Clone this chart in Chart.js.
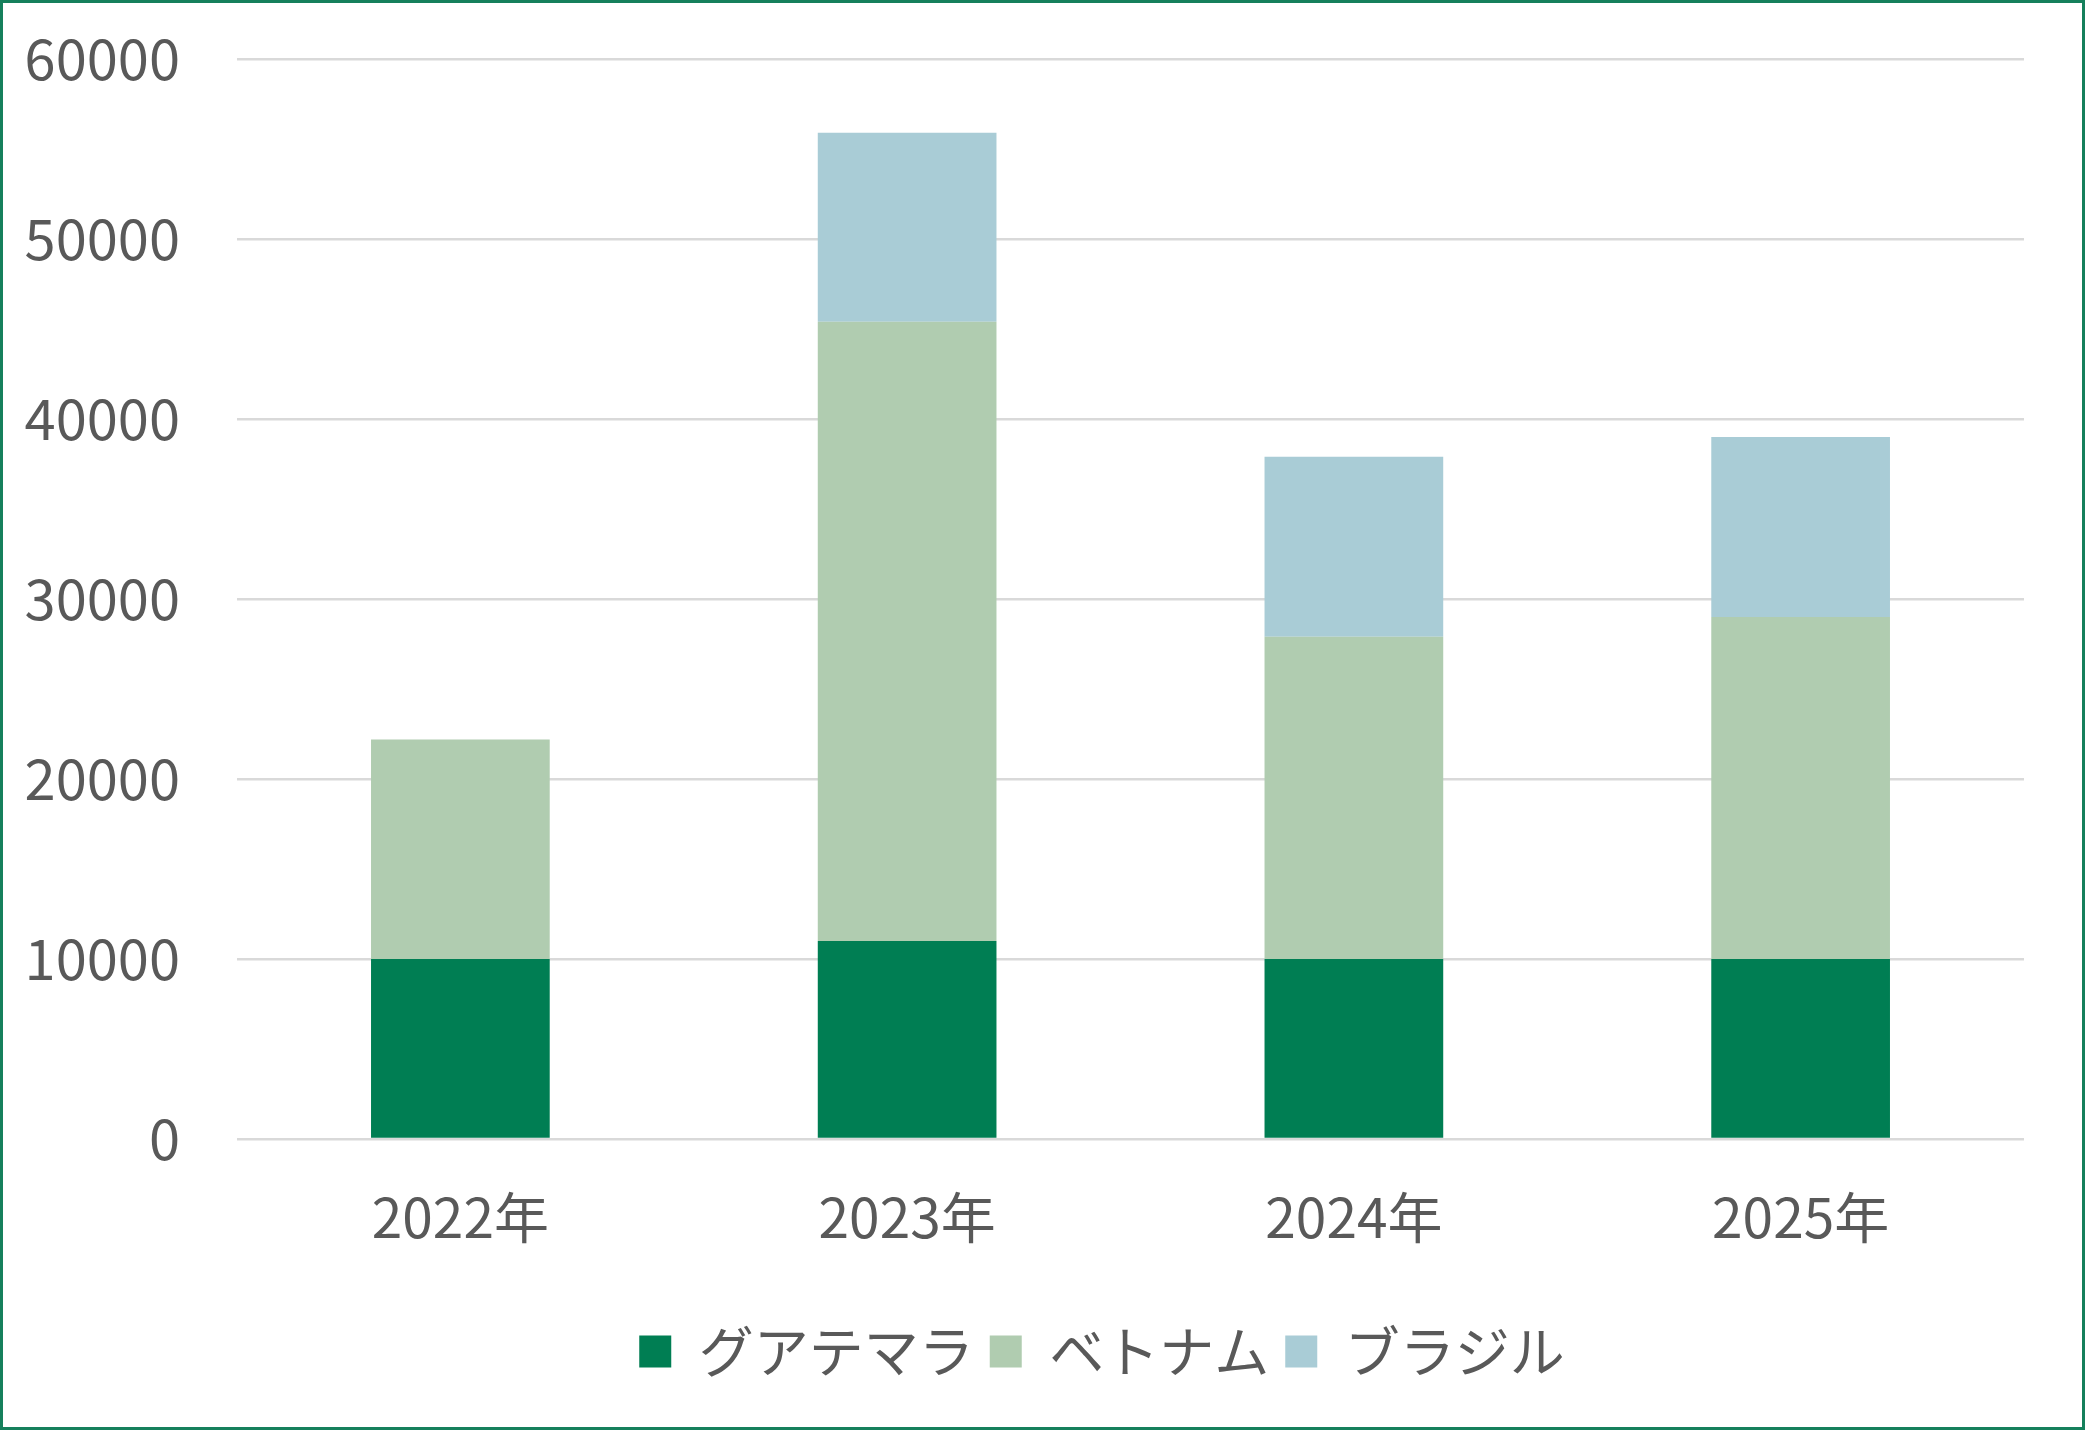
<!DOCTYPE html>
<html>
<head>
<meta charset="utf-8">
<script src="https://cdn.jsdelivr.net/npm/chart.js@4.4.1/dist/chart.umd.min.js"></script>
<style>
  html, body { margin: 0; padding: 0; background: #fff; }
  #wrap { width: 2085px; height: 1430px; }
</style>
</head>
<body>
<div id="wrap"><canvas id="coffeeChart" width="2085" height="1430"></canvas></div>
<script>
const years = ['2022年', '2023年', '2024年', '2025年'];
const guatemala = [10000, 11000, 10000, 10000];
const vietnam = [12200, 34400, 17900, 19000];
const brazil = [0, 10500, 10000, 10000];
const yTicks = [0, 10000, 20000, 30000, 40000, 50000, 60000];

const textColor = '#595959';
const fontFamily = '"Noto Sans CJK JP", "Noto Sans", sans-serif';

// 外枠の緑の線
const frame = {
    id: 'frame',
    afterDraw(chart) {
        const c = chart.ctx;
        c.save();
        c.strokeStyle = '#16805c';
        c.lineWidth = 3;
        c.strokeRect(1.5, 1.5, chart.width - 3, chart.height - 3);
        c.restore();
    }
};

// 凡例を少し右へ寄せる
const legendShift = {
    id: 'legendShift',
    afterLayout(chart) {
        if (chart.legend) {
            chart.legend.left += 90;
            chart.legend.right += 90;
        }
    }
};

function drawChart() {
    const ctx = document.getElementById('coffeeChart').getContext('2d');
    return new Chart(ctx, {
        type: 'bar',
        data: {
            labels: years,
            datasets: [
                { label: 'グアテマラ', data: guatemala, backgroundColor: '#007e53' },
                { label: 'ベトナム', data: vietnam, backgroundColor: '#b0ccb0' },
                { label: 'ブラジル', data: brazil, backgroundColor: '#a9ccd6' }
            ]
        },
        options: {
            responsive: false,
            animation: false,
            layout: { padding: { top: 59, right: 61, bottom: 41, left: 0 } },
            datasets: { bar: { barPercentage: 0.4, categoryPercentage: 1.0, borderWidth: 0 } },
            plugins: {
                legend: {
                    position: 'bottom',
                    labels: {
                        color: textColor,
                        font: { family: fontFamily, size: 55 },
                        boxWidth: 32,
                        boxHeight: 32,
                        padding: 16
                    }
                },
                tooltip: { enabled: false }
            },
            scales: {
                x: {
                    stacked: true,
                    grid: { display: false, drawTicks: false },
                    border: { display: false },
                    ticks: { color: textColor, font: { family: fontFamily, size: 55 }, padding: 45 },
                    afterFit(scale) { scale.height = 169; }
                },
                y: {
                    stacked: true,
                    min: 0,
                    max: 60000,
                    afterBuildTicks(scale) { scale.ticks = yTicks.map(v => ({ value: v })); },
                    grid: { color: '#d9d9d9', lineWidth: 2.5, drawTicks: false },
                    border: { display: false },
                    ticks: {
                        color: textColor,
                        font: { family: fontFamily, size: 56 },
                        padding: 57,
                        callback: v => String(v)
                    },
                    afterFit(scale) {
                        scale.width = 237;
                        scale.paddingTop = 0;
                        scale.paddingBottom = 0;
                    }
                }
            }
        },
        plugins: [frame, legendShift]
    });
}

document.fonts.load('55px "Noto Sans CJK JP"', 'グアテマラベトナムブラジル年0123456789')
    .then(drawChart, drawChart);
</script>
</body>
</html>
